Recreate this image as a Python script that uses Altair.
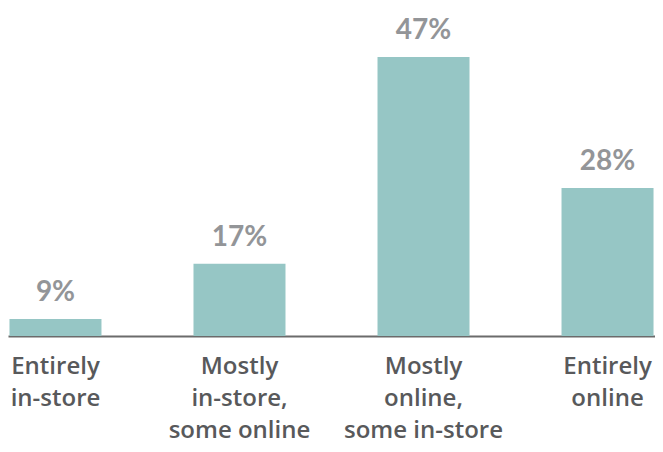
import altair as alt
import pandas as pd

categories = ["Entirely|in-store", "Mostly|in-store,|some online",
              "Mostly|online,|some in-store", "Entirely|online"]
values = [9, 17, 47, 28]
labels = ["9%", "17%", "47%", "28%"]

df = pd.DataFrame({"cat": categories, "value": values, "label": labels})

y_domain = [6.54, 53.52]

x = alt.X("cat:N", sort=categories, title=None,
          scale=alt.Scale(paddingInner=0.5, paddingOuter=0.008),
          axis=alt.Axis(labelExpr="split(datum.label, '|')", labelAngle=0,
                        labelFont="Open Sans", labelFontSize=24, labelFontWeight=600,
                        labelColor="#58595b",
                        labelLineHeight=32, labelPadding=18, labelBaseline="top",
                        ticks=False, domainColor="#6b6b6b", domainWidth=2,
                        labelLimit=300))

y = alt.Y("value:Q", scale=alt.Scale(domain=y_domain, zero=False, clamp=True),
          axis=None)

base = alt.Chart(df)

bars = base.mark_bar(color="#96c6c5").encode(
    x=x, y=y, y2=alt.datum(y_domain[0])
)

text = base.mark_text(font="Lato", fontWeight="bold",
                      fontSize=28, color="#939598", baseline="alphabetic",
                      dy=-18).encode(
    x=alt.X("cat:N", sort=categories), y=y, text="label:N"
)

chart = (bars + text).properties(
    width=647, height=324,
    autosize=alt.AutoSizeParams(type="none"),
    padding={"left": 0, "top": 4, "right": 0, "bottom": 108},
).configure_view(stroke=None)

chart.save("out.html", embed_options={"renderer": "svg", "actions": False})
